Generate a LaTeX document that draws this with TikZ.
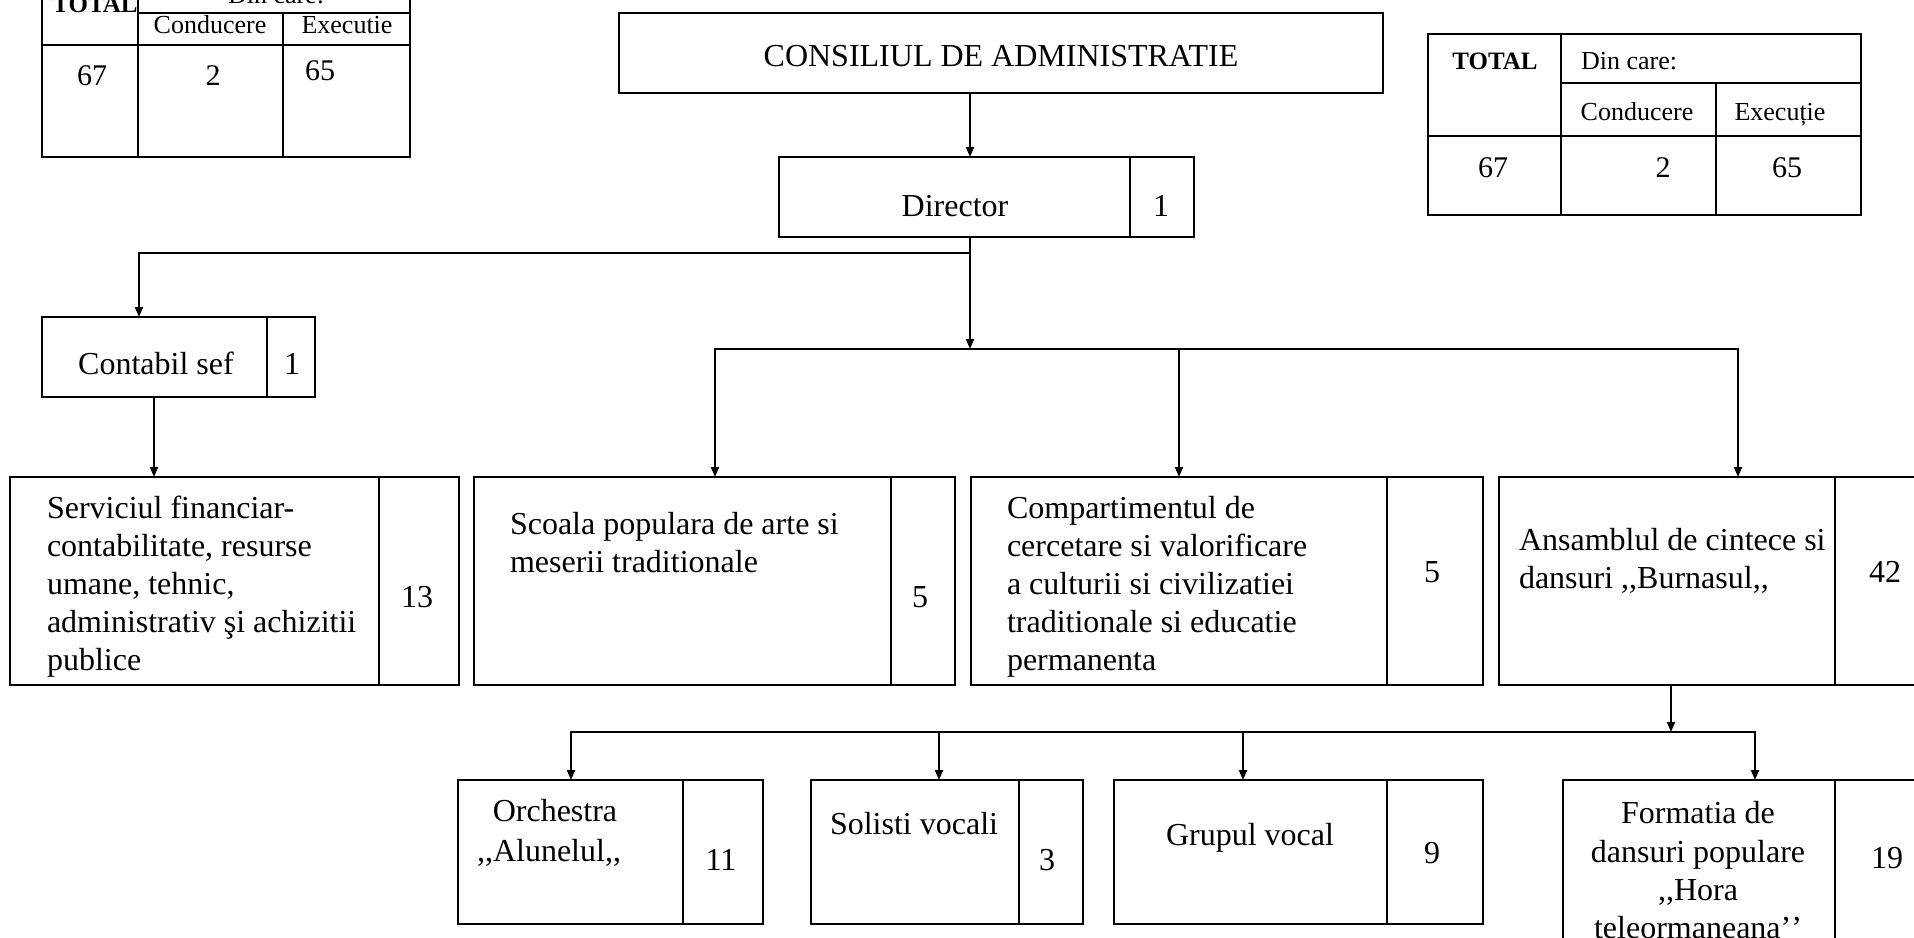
\documentclass[tikz,border=0pt]{standalone}
\usepackage{fontspec}
\setmainfont{Liberation Serif}
\usetikzlibrary{arrows.meta}
\newcommand\dcomma{,\kern0pt,}
\newcommand\dapos{’\kern0pt’}
\begin{document}
\begin{tikzpicture}[x=1pt,y=-1pt,
  box/.style={draw,line width=2.2pt,anchor=north west,inner sep=0pt,outer sep=0pt},
  lbl/.style={inner sep=0pt,outer sep=0pt,font=\fontsize{32}{38}\selectfont},
  arr/.style={line width=2pt,-{Triangle[length=10pt,width=8pt]}},
  tb/.style={line width=2.5pt},
  th/.style={inner sep=0pt,outer sep=0pt,font=\fontsize{26}{30}\selectfont},
  thb/.style={inner sep=0pt,outer sep=0pt,font=\fontsize{25}{30}\selectfont\bfseries},
  tn/.style={inner sep=0pt,outer sep=0pt,font=\fontsize{30}{34}\selectfont},
]
\useasboundingbox (0,0) rectangle (1914,937);

% ---------- left table ----------
\draw[tb] (42,-10) -- (42,157) -- (410,157) -- (410,-10);
\draw[tb] (138,-10) -- (138,157);
\draw[tb] (138,13) -- (410,13);
\draw[tb] (42,45) -- (410,45);
\draw[tb] (283,13) -- (283,157);
\node[thb,anchor=base] (ltot) at (95,12) {TOTAL};
\node[th,anchor=base] (ldin) at (276,3) {Din care:};
\node[th,anchor=base] (lcond) at (210,33) {Conducere};
\node[th,anchor=base] (lexec) at (347,33) {Executie};
\node[tn,anchor=base] (l67) at (92,85) {67};
\node[tn,anchor=base] (l2) at (213,85) {2};
\node[tn,anchor=base] (l65) at (320,80) {65};

% ---------- right table ----------
\draw[tb] (1428,34) rectangle (1861,215);
\draw[tb] (1561,34) -- (1561,215);
\draw[tb] (1561,83) -- (1861,83);
\draw[tb] (1428,136) -- (1861,136);
\draw[tb] (1716,83) -- (1716,215);
\node[thb,anchor=base] (rtot) at (1495,69) {TOTAL};
\node[th,anchor=base west] (rdin) at (1581,69) {Din care:};
\node[th,anchor=base] (rcond) at (1637,120) {Conducere};
\node[th,anchor=base] (rexec) at (1780,120) {Execuție};
\node[tn,anchor=base] (r67) at (1493,177) {67};
\node[tn,anchor=base] (r2) at (1663,177) {2};
\node[tn,anchor=base] (r65) at (1787,177) {65};

% ---------- boxes ----------
\node[box,minimum width=764pt,minimum height=80pt] (cons) at (619,13) {};
\node[box,minimum width=351pt,minimum height=80pt] (dir) at (779,157) {};
\node[box,minimum width=64pt,minimum height=80pt] (dirn) at (1130,157) {};
\node[box,minimum width=225pt,minimum height=80pt] (cont) at (42,317) {};
\node[box,minimum width=48pt,minimum height=80pt] (contn) at (267,317) {};

\node[box,minimum width=369pt,minimum height=208pt] (serv) at (10,477) {};
\node[box,minimum width=80pt,minimum height=208pt] (servn) at (379,477) {};
\node[box,minimum width=417pt,minimum height=208pt] (scoala) at (474,477) {};
\node[box,minimum width=64pt,minimum height=208pt] (scoalan) at (891,477) {};
\node[box,minimum width=416pt,minimum height=208pt] (comp) at (971,477) {};
\node[box,minimum width=96pt,minimum height=208pt] (compn) at (1387,477) {};
\node[box,minimum width=336pt,minimum height=208pt] (ans) at (1499,477) {};
\node[box,minimum width=110pt,minimum height=208pt] (ansn) at (1835,477) {};

\node[box,minimum width=225pt,minimum height=144pt] (orch) at (458,780) {};
\node[box,minimum width=80pt,minimum height=144pt] (orchn) at (683,780) {};
\node[box,minimum width=208pt,minimum height=144pt] (sol) at (811,780) {};
\node[box,minimum width=64pt,minimum height=144pt] (soln) at (1019,780) {};
\node[box,minimum width=273pt,minimum height=144pt] (grup) at (1114,780) {};
\node[box,minimum width=96pt,minimum height=144pt] (grupn) at (1387,780) {};
\node[box,minimum width=272pt,minimum height=190pt] (form) at (1563,780) {};
\node[box,minimum width=110pt,minimum height=190pt] (formn) at (1835,780) {};

% ---------- texts ----------
\node[lbl,anchor=base] (const) at (1001,66) {CONSILIUL DE ADMINISTRATIE};
\node[lbl,anchor=base] (dirt) at (955,216) {Director};
\node[lbl,anchor=base] (dirnt) at (1161,216) {1};
\node[lbl,anchor=base] (contt) at (156,374) {Contabil sef};
\node[lbl,anchor=base] (contnt) at (292,374) {1};

\foreach \t [count=\i] in {{Serviciul financiar-},{contabilitate, resurse},{umane, tehnic,},{administrativ şi achizitii},{publice}}
  \node[lbl,anchor=base west] (servt\i) at (47,{518+38*(\i-1)}) {\t};
\node[lbl,anchor=base] (servnt) at (417,607) {13};

\foreach \t [count=\i] in {{Scoala populara de arte si},{meserii traditionale}}
  \node[lbl,anchor=base west] (scoalat\i) at (510,{534+38*(\i-1)}) {\t};
\node[lbl,anchor=base] (scoalant) at (920,607) {5};

\foreach \t [count=\i] in {{Compartimentul de},{cercetare si valorificare},{a culturii si civilizatiei},{traditionale si educatie},{permanenta}}
  \node[lbl,anchor=base west] (compt\i) at (1007,{518+38*(\i-1)}) {\t};
\node[lbl,anchor=base] (compnt) at (1432,582) {5};

\node[lbl,anchor=base west] (anst1) at (1519,550) {Ansamblul de cintece si};
\node[lbl,anchor=base west] (anst2) at (1519,588) {dansuri \dcomma Burnasul\dcomma};
\node[lbl,anchor=base] (ansnt) at (1885,582) {42};

\node[lbl,anchor=base] (orcht1) at (555,821) {Orchestra};
\node[lbl,anchor=base] (orcht2) at (549,861) {\dcomma Alunelul\dcomma};
\node[lbl,anchor=base] (orchnt) at (721,870) {11};

\node[lbl,anchor=base west] (solt) at (830,834) {Solisti vocali};
\node[lbl,anchor=base] (solnt) at (1047,870) {3};

\node[lbl,anchor=base] (grupt) at (1250,845) {Grupul vocal};
\node[lbl,anchor=base] (grupnt) at (1432,863) {9};

\node[lbl,anchor=base] (formt1) at (1698,823) {Formatia de};
\node[lbl,anchor=base] (formt2) at (1698,862) {dansuri populare};
\node[lbl,anchor=base] (formt3) at (1698,900) {\dcomma Hora};
\node[lbl,anchor=base] (formt4) at (1698,938) {teleormaneana\dapos};
\node[lbl,anchor=base] (formnt) at (1887,868) {19};

% ---------- connectors ----------
\coordinate (j0) at (970,253);
\coordinate (jl) at (139,253);
\coordinate (cx) at (154,0);
\coordinate (m0) at (970,349);
\coordinate (ml) at (715,349);
\coordinate (mc) at (1179,349);
\coordinate (mr) at (1738,349);
\coordinate (b0) at (1671,732);
\coordinate (bl) at (571,732);
\coordinate (bs) at (939,732);
\coordinate (bg) at (1243,732);
\coordinate (br) at (1755,732);

\draw[arr] (cons.south -| j0) -- (dir.north -| j0);
\draw[arr] (dir.south -| j0) -- (m0);
\draw[arr] (j0) -- (jl) -- (cont.north -| jl);
\draw[arr] (cont.south -| cx) -- (serv.north -| cx);
\draw[arr] (mr) -- (ml) -- (scoala.north -| ml);
\draw[arr] (ml) -- (mr) -- (ans.north -| mr);
\draw[arr] (mc) -- (comp.north -| mc);
\draw[arr] (ans.south -| b0) -- (b0);
\draw[arr] (br) -- (bl) -- (orch.north -| bl);
\draw[arr] (bl) -- (br) -- (form.north -| br);
\draw[arr] (bs) -- (sol.north -| bs);
\draw[arr] (bg) -- (grup.north -| bg);
\end{tikzpicture}
\end{document}
